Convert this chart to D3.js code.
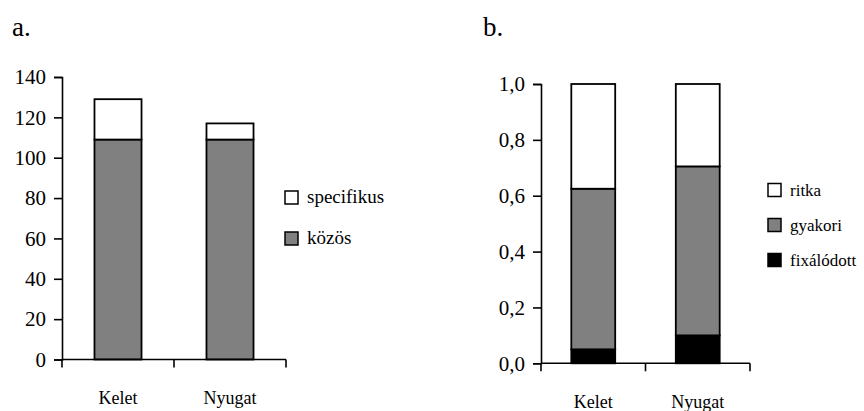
<!DOCTYPE html>
<html><head><meta charset="utf-8">
<script src="https://cdn.jsdelivr.net/npm/d3@7"></script>
</head><body style="margin:0">
<svg id="c" width="864" height="411"></svg>
<script>
// Chart a data
const catsA = ["Kelet", "Nyugat"];
const kozos = [109, 109];
const specifikus = [20, 8];
const ticksA = [0, 20, 40, 60, 80, 100, 120, 140];
const seriesA = ["közös", "specifikus"];
const legendA = ["specifikus", "közös"];

// Chart b data
const catsB = ["Kelet", "Nyugat"];
const fixalodott = [0.05, 0.10];
const gyakori = [0.575, 0.605];
const ritka = [0.375, 0.295];
const ticksB = [0, 0.2, 0.4, 0.6, 0.8, 1.0];
const seriesB = ["fixálódott", "gyakori", "ritka"];
const legendB = ["ritka", "gyakori", "fixálódott"];

const colors = {"közös":"#808080","specifikus":"#ffffff","fixálódott":"#000000","gyakori":"#808080","ritka":"#ffffff"};
const FONT = "Liberation Serif";

const svg = d3.select("#c");

function txt(sel, size){
  return sel.attr("font-family", FONT).attr("font-size", size).attr("fill","#000");
}

function drawChart(opts){
  const {x0,x1,y0,y1,cats,series,data,ticks,max,fmt,tickFont,legend,legX,legY,legStep,legFont,title,titleX} = opts;
  const g = svg.append("g");
  const x = d3.scaleBand().domain(cats).range([x0,x1]).paddingInner(0.58).paddingOuter(0.29);
  const y = d3.scaleLinear().domain([0,max]).range([y0,y1]);
  const rows = cats.map((c,i)=>{const o={cat:c}; series.forEach(s=>o[s]=data[s][i]); return o;});
  const stacked = d3.stack().keys(series)(rows);
  stacked.forEach(layer=>{
    g.selectAll(null).data(layer).join("rect")
      .attr("x",d=>x(d.data.cat)).attr("width",x.bandwidth())
      .attr("y",d=>y(d[1])).attr("height",d=>y(d[0])-y(d[1]))
      .attr("fill",colors[layer.key]).attr("stroke","#000").attr("stroke-width",1.8);
  });
  // y axis: lines via d3.axis, labels as plain texts
  const ya = d3.axisLeft(y).tickValues(ticks).tickFormat("").tickSize(8);
  const yg = g.append("g").attr("transform",`translate(${x0},0)`).call(ya);
  yg.select(".domain").attr("stroke-width",1.6);
  yg.selectAll(".tick line").attr("stroke-width",1.6);
  yg.selectAll(".tick text").remove();
  ticks.forEach(t=>{
    txt(svg.append("text"), tickFont).attr("x",x0-16).attr("y",y(t)).attr("dy","0.35em")
      .attr("text-anchor","end").text(fmt(t));
  });
  const xg = g.append("g").attr("transform",`translate(0,${y0})`);
  xg.append("line").attr("x1",x0).attr("x2",x1).attr("y1",0).attr("y2",0).attr("stroke","#000").attr("stroke-width",1.6);
  const edges = [x0, (x0+x1)/2, x1];
  xg.selectAll(null).data(edges).join("line").attr("x1",d=>d).attr("x2",d=>d).attr("y1",0).attr("y2",8).attr("stroke","#000").attr("stroke-width",1.6);
  cats.forEach(c=>{
    txt(svg.append("text"), opts.catFont).attr("x",x(c)+x.bandwidth()/2).attr("y",opts.catY)
      .attr("text-anchor","middle").text(c);
  });
  legend.forEach((s,i)=>{
    g.append("rect").attr("x",legX).attr("y",legY+i*legStep).attr("width",13).attr("height",13)
      .attr("fill",colors[s]).attr("stroke","#000").attr("stroke-width",1.5);
    txt(svg.append("text"), legFont).attr("x",legX+22).attr("y",legY+i*legStep+12).text(s);
  });
  txt(svg.append("text"), 27).attr("x",titleX).attr("y",36).text(title);
}

drawChart({x0:62,x1:286,y0:359.5,y1:77,cats:catsA,series:seriesA,
  data:{"közös":kozos,"specifikus":specifikus},ticks:ticksA,max:140,fmt:d3.format("d"),tickFont:21,
  legend:legendA,legX:285,legY:191,legStep:41,legFont:19,title:"a.",titleX:12,catY:404,catFont:18});

drawChart({x0:541,x1:750,y0:363.3,y1:84,cats:catsB,series:seriesB,
  data:{"fixálódott":fixalodott,"gyakori":gyakori,"ritka":ritka},ticks:ticksB,max:1,fmt:d=>d3.format(".1f")(d).replace(".",","),tickFont:21,
  legend:legendB,legX:768,legY:183.5,legStep:35,legFont:17,title:"b.",titleX:483,catY:408,catFont:18});
</script>
</body></html>
